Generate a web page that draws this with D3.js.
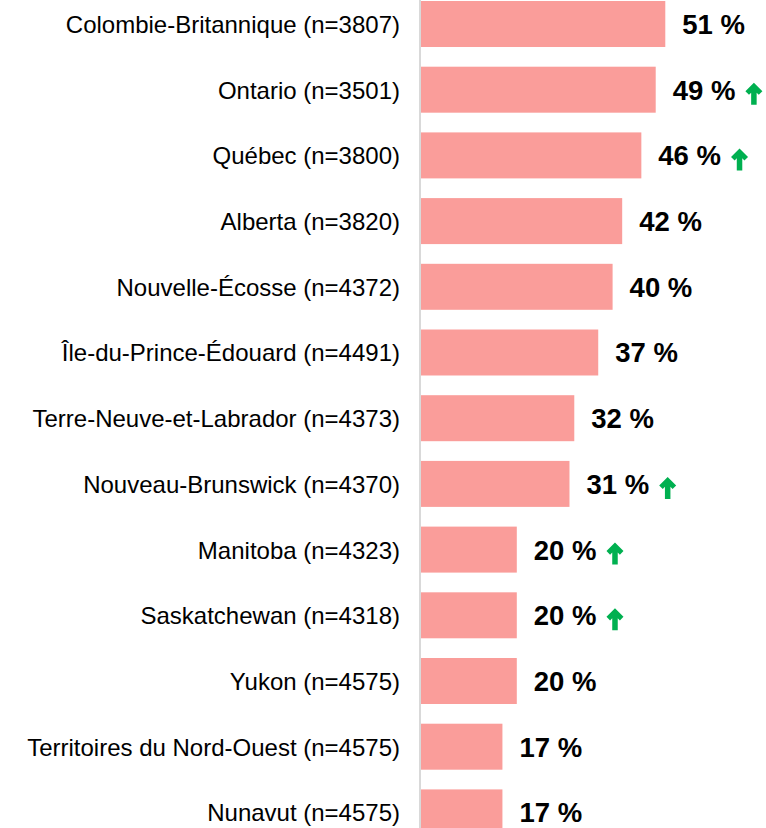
<!DOCTYPE html>
<html>
<head>
<meta charset="utf-8">
<script src="https://cdn.jsdelivr.net/npm/d3@7"></script>
<style>
  html, body { margin: 0; padding: 0; background: #fff; }
  svg { display: block; }
</style>
</head>
<body>
<svg id="chart" width="766" height="828"></svg>
<script>
const categories = [
  "Colombie-Britannique (n=3807)",
  "Ontario (n=3501)",
  "Québec (n=3800)",
  "Alberta (n=3820)",
  "Nouvelle-Écosse (n=4372)",
  "Île-du-Prince-Édouard (n=4491)",
  "Terre-Neuve-et-Labrador (n=4373)",
  "Nouveau-Brunswick (n=4370)",
  "Manitoba (n=4323)",
  "Saskatchewan (n=4318)",
  "Yukon (n=4575)",
  "Territoires du Nord-Ouest (n=4575)",
  "Nunavut (n=4575)"
];
const values = [51, 49, 46, 42, 40, 37, 32, 31, 20, 20, 20, 17, 17];
const increased = [false, true, true, false, false, false, false, true, true, true, false, false, false];

const svg = d3.select("#chart");

const x = d3.scaleLinear().domain([0, 100]).range([421, 900]);
const y = d3.scaleBand().domain(categories).range([1, 835.4]).paddingInner(0.3).paddingOuter(0);

// axis line
svg.append("line")
  .attr("x1", 420).attr("x2", 420)
  .attr("y1", 0).attr("y2", 828)
  .attr("stroke", "#d9d9d9").attr("stroke-width", 2);

// bars
svg.selectAll("rect.bar").data(categories).join("rect")
  .attr("class", "bar")
  .attr("x", x(0))
  .attr("y", d => y(d))
  .attr("width", (d, i) => x(values[i]) - x(0))
  .attr("height", y.bandwidth())
  .attr("fill", "#fa9d9a");

// category labels
svg.selectAll("text.cat").data(categories).join("text")
  .attr("class", "cat")
  .attr("x", 400)
  .attr("y", d => y(d) + y.bandwidth() / 2 + 9)
  .attr("text-anchor", "end")
  .attr("font-family", "Liberation Sans, Arial, sans-serif")
  .attr("font-size", 24)
  .attr("fill", "#000")
  .text(d => d);

// value labels
const vl = svg.selectAll("text.val").data(categories).join("text")
  .attr("class", "val")
  .attr("x", (d, i) => x(values[i]) + 17)
  .attr("y", d => y(d) + y.bandwidth() / 2 + 10)
  .attr("font-family", "Liberation Sans, Arial, sans-serif")
  .attr("font-size", 27.5)
  .attr("font-weight", "bold")
  .attr("fill", "#000")
  .text((d, i) => values[i] + " %");

// arrows
vl.each(function(d, i) {
  if (!increased[i]) return;
  const len = this.getComputedTextLength();
  const ax = x(values[i]) + 17 + len + 10;
  const cy = y(d) + y.bandwidth() / 2 + 4;
  const w = 17, h = 22, a = 3.6, s = 5.5;
  const top = cy - h / 2, bot = cy + h / 2;
  const cx = ax + w / 2, hw = w / 2;
  const innerY = top + hw + a - (hw - a - s / 2);
  const pts = [
    [cx, top],
    [ax + w, top + hw],
    [ax + w - a, top + hw + a],
    [cx + s / 2, innerY],
    [cx + s / 2, bot],
    [cx - s / 2, bot],
    [cx - s / 2, innerY],
    [ax + a, top + hw + a],
    [ax, top + hw]
  ];
  svg.append("path")
    .attr("d", d3.line()(pts) + "Z")
    .attr("fill", "#00b050");
});
</script>
</body>
</html>
